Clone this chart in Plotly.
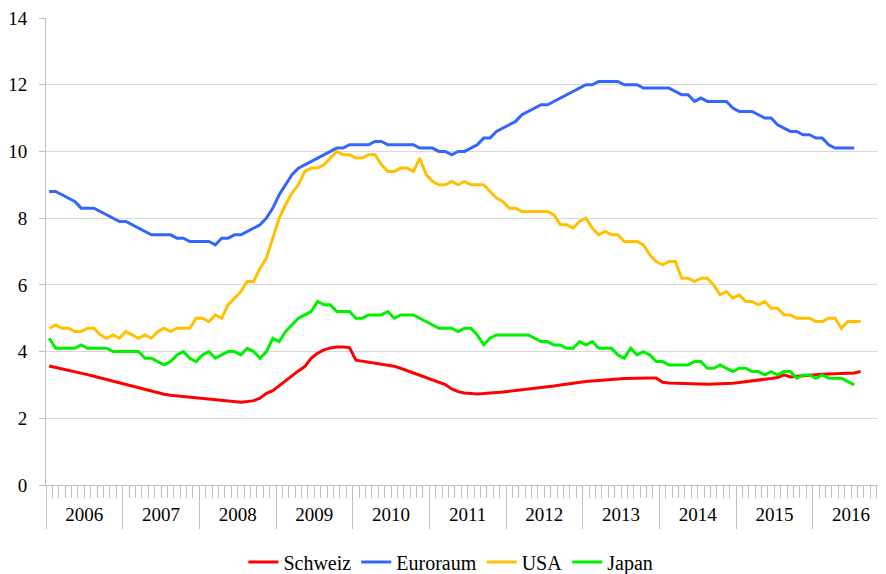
import plotly.graph_objects as go

# ---- data (monthly, starting Jan 2006) ----
years = list(range(2006, 2017))

schweiz = [3.57, 3.53, 3.48, 3.44, 3.39, 3.35, 3.31, 3.26, 3.21, 3.16, 3.11, 3.06,
           3.01, 2.96, 2.91, 2.85, 2.80, 2.76, 2.72, 2.69, 2.67, 2.65, 2.63, 2.61,
           2.59, 2.57, 2.54, 2.52, 2.50, 2.48, 2.48, 2.50, 2.53, 2.60, 2.75, 2.83,
           2.98, 3.13, 3.28, 3.42, 3.55, 3.80, 3.95, 4.05, 4.11, 4.14, 4.14, 4.12,
           3.74, 3.71, 3.69, 3.67, 3.64, 3.61, 3.56, 3.50, 3.43, 3.36, 3.29, 3.22,
           3.15, 3.08, 3.01, 2.88, 2.80, 2.76, 2.74, 2.73, 2.74, 2.75, 2.77, 2.79,
           2.81, 2.83, 2.85, 2.87, 2.89, 2.91, 2.94, 2.97, 3.00, 3.03, 3.06, 3.08,
           3.10, 3.12, 3.14, 3.15, 3.17, 3.18, 3.19, 3.20, 3.20, 3.20, 3.21, 3.21,
           3.08, 3.06, 3.05, 3.04, 3.03, 3.03, 3.02, 3.02, 3.03, 3.03, 3.04, 3.05,
           3.07, 3.10, 3.12, 3.15, 3.17, 3.19, 3.22, 3.30, 3.24, 3.26, 3.28, 3.30,
           3.31, 3.32, 3.33, 3.33, 3.34, 3.35, 3.36, 3.40]

euroraum = [8.8, 8.8, 8.7, 8.6, 8.5, 8.3, 8.3, 8.3, 8.2, 8.1, 8.0, 7.9,
            7.9, 7.8, 7.7, 7.6, 7.5, 7.5, 7.5, 7.5, 7.4, 7.4, 7.3, 7.3,
            7.3, 7.3, 7.2, 7.4, 7.4, 7.5, 7.5, 7.6, 7.7, 7.8, 8.0, 8.3,
            8.7, 9.0, 9.3, 9.5, 9.6, 9.7, 9.8, 9.9, 10.0, 10.1, 10.1, 10.2,
            10.2, 10.2, 10.2, 10.3, 10.3, 10.2, 10.2, 10.2, 10.2, 10.2, 10.1, 10.1,
            10.1, 10.0, 10.0, 9.9, 10.0, 10.0, 10.1, 10.2, 10.4, 10.4, 10.6, 10.7,
            10.8, 10.9, 11.1, 11.2, 11.3, 11.4, 11.4, 11.5, 11.6, 11.7, 11.8, 11.9,
            12.0, 12.0, 12.1, 12.1, 12.1, 12.1, 12.0, 12.0, 12.0, 11.9, 11.9, 11.9,
            11.9, 11.9, 11.8, 11.7, 11.7, 11.5, 11.6, 11.5, 11.5, 11.5, 11.5, 11.3,
            11.2, 11.2, 11.2, 11.1, 11.0, 11.0, 10.8, 10.7, 10.6, 10.6, 10.5, 10.5,
            10.4, 10.4, 10.2, 10.1, 10.1, 10.1, 10.1]

usa = [4.7, 4.8, 4.7, 4.7, 4.6, 4.6, 4.7, 4.7, 4.5, 4.4, 4.5, 4.4,
       4.6, 4.5, 4.4, 4.5, 4.4, 4.6, 4.7, 4.6, 4.7, 4.7, 4.7, 5.0,
       5.0, 4.9, 5.1, 5.0, 5.4, 5.6, 5.8, 6.1, 6.1, 6.5, 6.8, 7.4,
       8.0, 8.4, 8.75, 9.0, 9.4, 9.5, 9.5, 9.6, 9.8, 10.0, 9.9, 9.9,
       9.8, 9.8, 9.9, 9.9, 9.6, 9.4, 9.4, 9.5, 9.5, 9.4, 9.8, 9.3,
       9.1, 9.0, 9.0, 9.1, 9.0, 9.1, 9.0, 9.0, 9.0, 8.8, 8.6, 8.5,
       8.3, 8.3, 8.2, 8.2, 8.2, 8.2, 8.2, 8.1, 7.8, 7.8, 7.7, 7.9,
       8.0, 7.7, 7.5, 7.6, 7.5, 7.5, 7.3, 7.3, 7.3, 7.2, 6.9, 6.7,
       6.6, 6.7, 6.7, 6.2, 6.2, 6.1, 6.2, 6.2, 6.0, 5.7, 5.8, 5.6,
       5.7, 5.5, 5.5, 5.4, 5.5, 5.3, 5.3, 5.1, 5.1, 5.0, 5.0, 5.0,
       4.9, 4.9, 5.0, 5.0, 4.7, 4.9, 4.9, 4.9]

japan = [4.4, 4.1, 4.1, 4.1, 4.1, 4.2, 4.1, 4.1, 4.1, 4.1, 4.0, 4.0,
         4.0, 4.0, 4.0, 3.8, 3.8, 3.7, 3.6, 3.7, 3.9, 4.0, 3.8, 3.7,
         3.9, 4.0, 3.8, 3.9, 4.0, 4.0, 3.9, 4.1, 4.0, 3.8, 4.0, 4.4,
         4.3, 4.6, 4.8, 5.0, 5.1, 5.2, 5.5, 5.4, 5.4, 5.2, 5.2, 5.2,
         5.0, 5.0, 5.1, 5.1, 5.1, 5.2, 5.0, 5.1, 5.1, 5.1, 5.0, 4.9,
         4.8, 4.7, 4.7, 4.7, 4.6, 4.7, 4.7, 4.5, 4.2, 4.4, 4.5, 4.5,
         4.5, 4.5, 4.5, 4.5, 4.4, 4.3, 4.3, 4.2, 4.2, 4.1, 4.1, 4.3,
         4.2, 4.3, 4.1, 4.1, 4.1, 3.9, 3.8, 4.1, 3.9, 4.0, 3.9, 3.7,
         3.7, 3.6, 3.6, 3.6, 3.6, 3.7, 3.7, 3.5, 3.5, 3.6, 3.5, 3.4,
         3.5, 3.5, 3.4, 3.4, 3.3, 3.4, 3.3, 3.4, 3.4, 3.2, 3.3, 3.3,
         3.2, 3.3, 3.2, 3.2, 3.2, 3.1, 3.0]

series = [
    ("Schweiz", schweiz, "#FF0000"),
    ("Euroraum", euroraum, "#3366FF"),
    ("USA", usa, "#FFC000"),
    ("Japan", japan, "#00F000"),
]

y_ticks = [0, 2, 4, 6, 8, 10, 12, 14]

FONT = "Times New Roman, Liberation Serif, serif"
AXIS_COLOR = "#BFBFBF"
GRID_COLOR = "#D9D9D9"
FS = 19

fig = go.Figure()
for name, vals, color in series:
    fig.add_trace(go.Scatter(
        x=list(range(len(vals))), y=vals, name=name, mode="lines",
        line=dict(color=color, width=3), xaxis="x", yaxis="y",
    ))

year_bounds = [-0.5 + 12 * k for k in range(len(years) + 1)]
year_centers = [5.5 + 12 * k for k in range(len(years))]
x_range = [-0.5, 130.97]

fig.update_layout(
    width=878, height=574,
    margin=dict(l=38, r=0, t=10, b=83),
    paper_bgcolor="white", plot_bgcolor="white",
    font=dict(family=FONT, size=FS, color="black"),
    showlegend=True,
    legend=dict(orientation="h", x=0.482, xanchor="center", y=-0.165, yanchor="middle",
                font=dict(family=FONT, size=20), itemwidth=30, tracegroupgap=0),
    xaxis=dict(
        range=x_range, showgrid=False, zeroline=False, automargin=False,
        showline=True, linecolor=AXIS_COLOR, linewidth=1,
        tickmode="array", tickvals=year_bounds, ticks="outside", ticklen=43,
        tickcolor=AXIS_COLOR, tickwidth=1, showticklabels=False,
        minor=dict(ticks="outside", ticklen=12, tickcolor=AXIS_COLOR, tickwidth=1,
                   tick0=-0.5, dtick=1, showgrid=False),
    ),
    xaxis2=dict(
        range=x_range, overlaying="x", anchor="y", side="bottom", automargin=False,
        showgrid=False, zeroline=False, showline=False,
        tickmode="array", tickvals=year_centers, ticktext=[str(y) for y in years],
        ticks="outside", ticklen=12, tickcolor="rgba(0,0,0,0)",
        ticklabeloverflow="allow",
        tickfont=dict(family=FONT, size=FS, color="black"),
    ),
    yaxis=dict(
        range=[0, 14], tickmode="array", tickvals=y_ticks, automargin=False,
        showgrid=True, gridcolor=GRID_COLOR, gridwidth=1, zeroline=False,
        showline=True, linecolor=AXIS_COLOR, linewidth=1,
        ticks="outside", ticklen=6, tickcolor=AXIS_COLOR,
        ticklabelstandoff=8, ticklabeloverflow="allow",
        tickfont=dict(family=FONT, size=FS, color="black"),
    ),
)

# invisible trace so the year-label axis is rendered
fig.add_trace(go.Scatter(x=[year_centers[0]], y=[None], xaxis="x2", yaxis="y",
                         showlegend=False, hoverinfo="skip"))

fig.write_html("out.html")
